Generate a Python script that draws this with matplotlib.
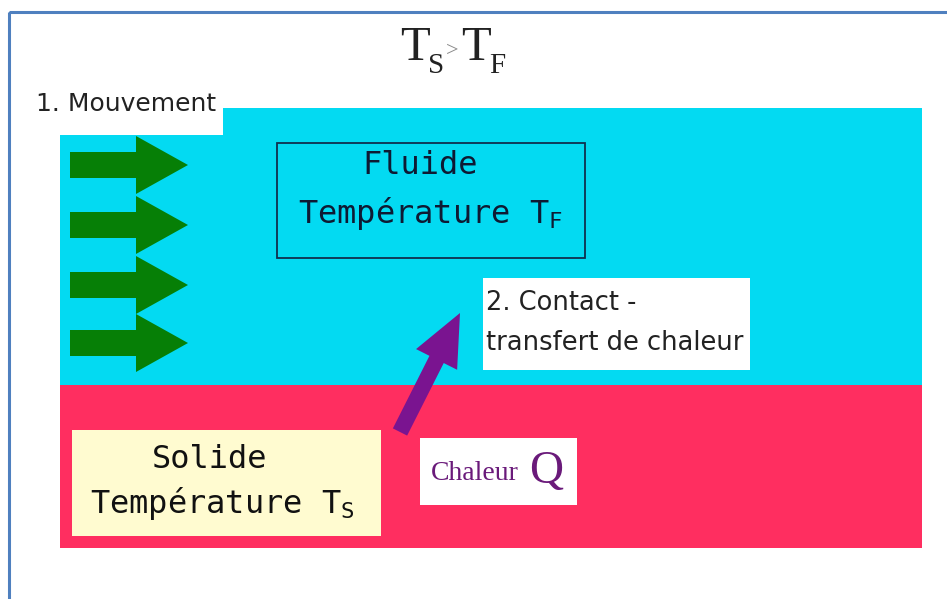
import matplotlib.pyplot as plt
from matplotlib.patches import Rectangle

plt.rcParams['mathtext.fontset'] = 'custom'
plt.rcParams['mathtext.rm'] = 'Liberation Serif'
plt.rcParams['mathtext.tt'] = 'DejaVu Sans Mono'

# labels of the diagram
title_parts = ["T", "S", ">", "T", "F"]
step_labels = ["1. Mouvement", "2. Contact -\ntransfert de chaleur"]
fluid_lines = ["Fluide", r"Température T$_\mathtt{F}$"]
solid_lines = ["Solide", r"Température T$_\mathtt{S}$"]
heat_label = ["Chaleur", "Q"]
flow_rows = [165, 225, 285, 343]   # y of the four flow arrows (px)

cyan = "#03DAF2"
red = "#FF2E60"
green = "#067F06"
purple = "#7A1490"

fig = plt.figure(figsize=(9.47, 5.99), dpi=100)
ax = fig.add_axes([0, 0, 1, 1])
ax.set_xlim(0, 947)
ax.set_ylim(599, 0)
ax.axis("off")

# outer frame
ax.add_patch(Rectangle((9, 12), 980, 640, fill=False, ec="#4F80BF", lw=2.2))

# fluid and solid layers
ax.add_patch(Rectangle((60, 108), 862, 278, fc=cyan, ec="none"))
ax.add_patch(Rectangle((60, 385), 862, 163, fc=red, ec="none"))

# title T_S > T_F
serif = "Liberation Serif"
ax.text(400, 60, title_parts[0], fontsize=35, family=serif, color="#222222")
ax.text(428, 73, title_parts[1], fontsize=21, family=serif, color="#222222")
ax.text(446, 56, title_parts[2], fontsize=16, family=serif, color="#888888")
ax.text(461, 60, title_parts[3], fontsize=35, family=serif, color="#222222")
ax.text(489, 73, title_parts[4], fontsize=21, family=serif, color="#222222")

# step 1 label (white box cutting into the cyan)
ax.add_patch(Rectangle((28, 86), 195, 49, fc="white", ec="none"))
ax.text(36, 104, step_labels[0], fontsize=18, family="DejaVu Sans",
        color="#222222", va="center")

# flow arrows
for y in flow_rows:
    ax.arrow(70, y, 118, 0, width=26, head_width=58, head_length=52,
             length_includes_head=True, fc=green, ec="none")

# fluid box
ax.add_patch(Rectangle((277, 143), 308, 115, fill=False, ec="#10304F", lw=1.3))
ax.text(420, 165, fluid_lines[0], fontsize=23, family="DejaVu Sans Mono",
        color="#0E1A33", ha="center", va="center")
ax.text(298, 214, fluid_lines[1], fontsize=23, family="DejaVu Sans Mono",
        color="#0E1A33", ha="left", va="center")

# step 2 label
ax.add_patch(Rectangle((483, 278), 267, 92, fc="white", ec="none"))
ax.text(486, 323, step_labels[1], fontsize=18.5, family="DejaVu Sans",
        color="#222222", va="center", linespacing=1.75)

# heat transfer arrow
ax.arrow(400, 432, 60, -119, width=16, head_width=46, head_length=52,
         length_includes_head=True, fc=purple, ec="none")

# solid box
ax.add_patch(Rectangle((72, 430), 309, 106, fc="#FFFBD0", ec="none"))
ax.text(210, 460, solid_lines[0], fontsize=23, family="DejaVu Sans Mono",
        color="#111111", ha="center", va="center")
ax.text(90, 503, solid_lines[1], fontsize=23, family="DejaVu Sans Mono",
        color="#111111", ha="left", va="center")

# heat label
ax.add_patch(Rectangle((420, 438), 157, 67, fc="white", ec="none"))
ax.text(431, 480, heat_label[0], fontsize=20, family=serif, color="#6A1A7A")
ax.text(529, 483, heat_label[1], fontsize=34, family=serif, color="#6A1A7A")

fig.savefig("out.png", dpi=100)
